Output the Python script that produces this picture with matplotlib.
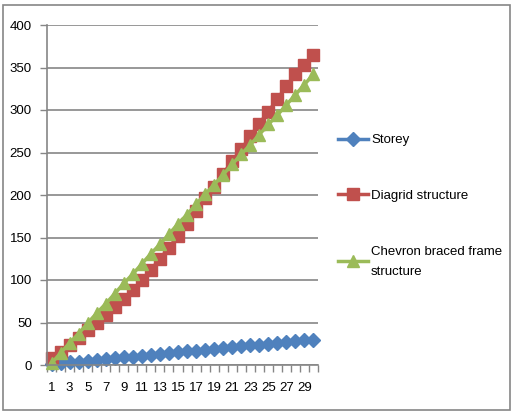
import matplotlib
matplotlib.use('Agg')
import numpy as np
from matplotlib import pyplot as plt
from matplotlib.patches import Rectangle

# data
storey = list(range(1, 31))
diagrid = [8, 15, 23, 32, 41, 50, 59, 68, 78, 88,
           100, 112, 125, 138, 152, 166, 181, 196, 210, 225,
           240, 254, 269, 284, 298, 313, 328, 342, 353, 365]
chevron = [2, 14, 26, 37, 49, 61, 72, 84, 96, 107,
           119, 131, 142, 154, 166, 177, 189, 201, 212, 224,
           236, 248, 259, 271, 283, 294, 306, 318, 330, 342]
labels = ['Storey', 'Diagrid structure', 'Chevron braced frame\nstructure']
colors = ['#4F81BD', '#C0504D', '#9BBB59']
markers = ['D', 's', '^']
msizes = [7, 8, 9]

plt.rcParams['font.family'] = ['Liberation Sans', 'DejaVu Sans']
grey = '#868686'

fig = plt.figure(figsize=(5.2, 4.16), dpi=100)
fig.patches.append(Rectangle((3 / 520, 1 - 410 / 416), 507 / 520, 405 / 416,
                             transform=fig.transFigure, fill=False,
                             edgecolor=grey, linewidth=1.2))

ax = fig.add_axes([47 / 520, 1 - 365 / 416, 271 / 520, 340 / 416])
x = np.arange(1, 31)
handles = []
for series, lab, c, m, ms in zip([storey, diagrid, chevron], labels, colors, markers, msizes):
    h, = ax.plot(x, series, color=c, marker=m, markersize=ms, linewidth=2.5,
                 markeredgecolor=c, label=lab, clip_on=False)
    handles.append(h)

ax.set_xlim(0.5, 30.5)
ax.set_ylim(0, 400)
ax.set_yticks(np.arange(0, 401, 50))
ax.yaxis.grid(True, color=grey, linewidth=1.2)
ax.set_axisbelow(True)

ax.set_xticks(np.arange(0.5, 31, 1))
ax.set_xticklabels([])
ax.set_xticks(np.arange(1, 31, 2), minor=True)
ax.set_xticklabels([str(i) for i in range(1, 31, 2)], minor=True)
ax.tick_params(axis='x', which='major', length=5, color=grey, width=1)
ax.tick_params(axis='x', which='minor', length=0, pad=12, labelsize=9.5)
ax.tick_params(axis='y', length=5, color=grey, width=1, labelsize=9.5, pad=6)

for side in ['top', 'right']:
    ax.spines[side].set_visible(False)
for side in ['left', 'bottom']:
    ax.spines[side].set_color(grey)
    ax.spines[side].set_linewidth(1.2)

leg = fig.legend(handles=handles, loc='upper left', bbox_to_anchor=(338 / 520, 1 - 134 / 416),
                 frameon=False, fontsize=9.5, labelspacing=3.3, handlelength=2.3,
                 handletextpad=0.2, borderpad=0, borderaxespad=0)
leg.get_texts()[2].set_linespacing(1.9)

fig.savefig('out.png', dpi=100, facecolor='white')
